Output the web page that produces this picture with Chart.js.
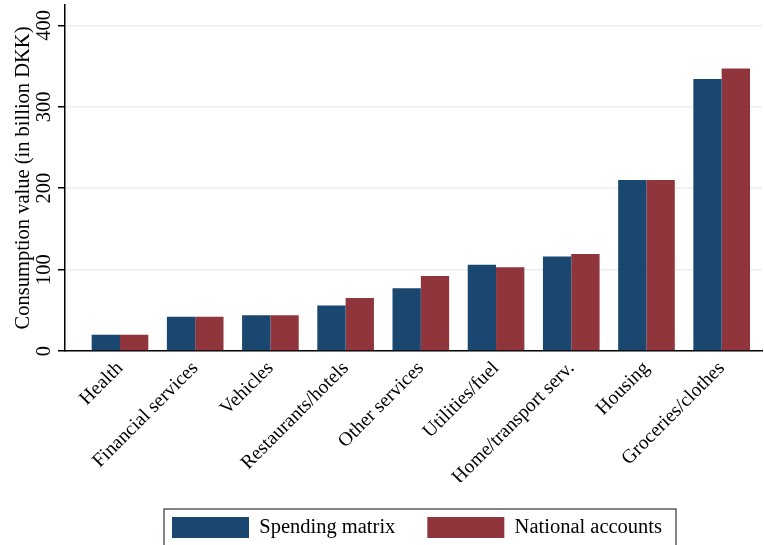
<!DOCTYPE html>
<html>
<head>
<meta charset="utf-8">
<script src="https://cdn.jsdelivr.net/npm/chart.js@4.4.1/dist/chart.umd.min.js"></script>
<style>
  body { margin: 0; background: #fff; }
  #wrap { width: 764px; height: 545px; }
</style>
</head>
<body>
<div id="wrap"><canvas id="consumptionChart" width="764" height="545"></canvas></div>
<script>
// chart data
const categories = ['Health', 'Financial services', 'Vehicles', 'Restaurants/hotels',
    'Other services', 'Utilities/fuel', 'Home/transport serv.', 'Housing', 'Groceries/clothes'];
const spendingMatrix = [20, 42, 44, 56, 77, 106, 116, 210, 334];
const nationalAccounts = [20, 42, 44, 65, 92, 103, 119, 210, 347];
const yTicks = [0, 100, 200, 300, 400];

const seriesNames = ['Spending matrix', 'National accounts'];
const seriesColors = ['#1a476f', '#90353b'];
const serif = 'Liberation Serif';

// bars sit on integer positions of a linear x axis so the gaps at both ends can differ
function toPoints(values) {
    return values.map((v, i) => ({ x: i, y: v }));
}

// place the legend like Stata does and draw a frame round it
const legendFrame = {
    id: 'legendFrame',
    beforeDraw(chart) {
        const legend = chart.legend;
        const h = legend.height;
        legend.left = 140;
        legend.right = 764;
        legend.top = 485;
        legend.bottom = 485 + h;
    },
    afterDraw(chart) {
        const legend = chart.legend;
        const pad = legend.options.labels.padding;
        const start = legend.left + pad;
        const ctx = chart.ctx;
        const left = start - 8;
        const right = start + legend.lineWidths[0] - pad + 14;
        const top = legend.top + pad - 8;
        ctx.save();
        ctx.strokeStyle = '#333';
        ctx.lineWidth = 1.2;
        ctx.strokeRect(left, top, right - left, 60);
        ctx.restore();
    }
};

const ctx = document.getElementById('consumptionChart').getContext('2d');
new Chart(ctx, {
    type: 'bar',
    data: {
        datasets: [{
            label: seriesNames[0],
            data: toPoints(spendingMatrix),
            backgroundColor: seriesColors[0]
        }, {
            label: seriesNames[1],
            data: toPoints(nationalAccounts),
            backgroundColor: seriesColors[1]
        }]
    },
    options: {
        responsive: false,
        animation: false,
        categoryPercentage: 0.753,
        barPercentage: 1,
        layout: { padding: { top: 5, right: 2, left: 0, bottom: 0 } },
        scales: {
            x: {
                type: 'linear',
                offset: false,
                min: -0.731,
                max: 8.536,
                grid: { display: false, drawTicks: false },
                border: { display: true, color: '#000', width: 1.5 },
                ticks: {
                    stepSize: 1,
                    includeBounds: false,
                    autoSkip: false,
                    minRotation: 45,
                    maxRotation: 45,
                    padding: 6,
                    color: '#000',
                    font: { family: serif, size: 19.5 },
                    callback: (value) => categories[value] ?? ''
                },
                afterFit(scale) {
                    scale.height = 131;
                    scale.paddingLeft = 0;
                    scale.paddingRight = 0;
                }
            },
            y: {
                min: 0,
                max: 425,
                afterBuildTicks(scale) {
                    scale.ticks = yTicks.map(v => ({ value: v }));
                },
                grid: {
                    color: '#e8eff1',
                    lineWidth: 1.5,
                    tickColor: '#000',
                    tickLength: 7,
                    tickWidth: 1.5
                },
                border: { display: true, color: '#000', width: 1.5 },
                ticks: {
                    minRotation: 90,
                    maxRotation: 90,
                    crossAlign: 'center',
                    padding: -2,
                    color: '#000',
                    font: { family: serif, size: 20.5 }
                },
                title: {
                    display: true,
                    text: 'Consumption value (in billion DKK)',
                    color: '#000',
                    font: { family: serif, size: 20.5 },
                    padding: { top: 11, bottom: 0 }
                },
                afterFit(scale) {
                    scale.width = 65;
                    scale.paddingTop = 0;
                    scale.paddingBottom = 0;
                }
            }
        },
        plugins: {
            legend: {
                position: 'bottom',
                align: 'start',
                labels: {
                    boxWidth: 77,
                    boxHeight: 21,
                    padding: 32,
                    color: '#000',
                    font: { family: serif, size: 20.5 }
                }
            },
            tooltip: { enabled: false }
        }
    },
    plugins: [legendFrame]
});
</script>
</body>
</html>
